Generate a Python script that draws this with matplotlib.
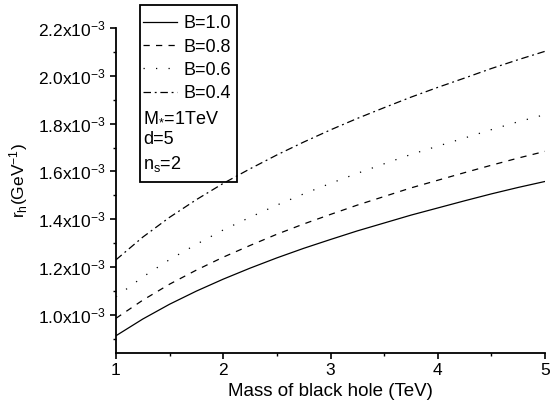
import numpy as np
import matplotlib
matplotlib.use("Agg")
import matplotlib.pyplot as plt
from matplotlib.patches import Rectangle
from matplotlib.ticker import MultipleLocator, FixedLocator, FuncFormatter

plt.rcParams["font.family"] = ["Liberation Sans", "DejaVu Sans"]
plt.rcParams["mathtext.fontset"] = "custom"
plt.rcParams["mathtext.rm"] = "Liberation Sans"
plt.rcParams["mathtext.it"] = "Liberation Sans"

# black hole mass (TeV) and horizon radius r_h (units of 1e-3 GeV^-1)
mass = [1.0, 1.25, 1.5, 1.75, 2.0, 2.25, 2.5, 2.75, 3.0,
        3.25, 3.5, 3.75, 4.0, 4.25, 4.5, 4.75, 5.0]
rh_b10 = [0.912, 0.982, 1.044, 1.099, 1.149, 1.195, 1.238, 1.278, 1.315,
          1.351, 1.384, 1.417, 1.447, 1.477, 1.506, 1.533, 1.558]
rh_b08 = [0.985, 1.061, 1.128, 1.187, 1.241, 1.290, 1.337, 1.380, 1.420,
          1.459, 1.495, 1.531, 1.563, 1.595, 1.626, 1.656, 1.684]
rh_b06 = [1.075, 1.158, 1.231, 1.295, 1.355, 1.408, 1.459, 1.506, 1.550,
          1.592, 1.632, 1.671, 1.706, 1.740, 1.775, 1.808, 1.838]
rh_b04 = [1.230, 1.325, 1.408, 1.482, 1.550, 1.611, 1.669, 1.723, 1.774,
          1.822, 1.867, 1.911, 1.952, 1.991, 2.031, 2.068, 2.103]

series = [
    ("B=1.0", rh_b10, "-"),
    ("B=0.8", rh_b08, (0, (5, 5))),
    ("B=0.6", rh_b06, (0, (1, 9))),
    ("B=0.4", rh_b04, (0, (6, 3, 1.5, 3))),
]
params = [r"M$_{*}$=1TeV", "d=5", r"n$_{s}$=2"]

fig = plt.figure(figsize=(5.55, 4.08), dpi=100)
ax = fig.add_axes([0.209, 0.135, 0.773, 0.796])

for label, vals, ls in series:
    ax.plot(mass, vals, color="black", lw=0.9, ls=ls, label=label)

ax.set_xlim(1, 5)
ax.set_ylim(0.84, 2.2)
ax.xaxis.set_major_locator(MultipleLocator(1))
ax.xaxis.set_minor_locator(MultipleLocator(0.5))
ax.yaxis.set_major_locator(FixedLocator(np.arange(1.0, 2.21, 0.2)))
ax.yaxis.set_minor_locator(FixedLocator(np.arange(0.9, 2.21, 0.1)))
ax.yaxis.set_major_formatter(FuncFormatter(lambda v, p: f"{v:.1f}x10$^{{-3}}$"))
ax.xaxis.set_major_formatter(FuncFormatter(lambda v, p: f"{v:.0f}"))

for s in ("top", "right"):
    ax.spines[s].set_visible(False)
for s in ("left", "bottom"):
    ax.spines[s].set_linewidth(1.3)
ax.tick_params(which="major", direction="out", length=4, width=1.2, labelsize=12.5)
ax.tick_params(which="minor", direction="out", length=2.5, width=1.0)

ax.set_xlabel("Mass of black hole (TeV)", fontsize=13.5, labelpad=3)
ax.set_ylabel(r"r$_{h}$(GeV$^{-1}$)", fontsize=12.5)
ax.yaxis.set_label_coords(-0.20, 0.53)

# legend: four curves plus three parameter lines without handles
handles, labels = ax.get_legend_handles_labels()
for p in params:
    h, = ax.plot([], [], color="none")
    handles.append(h)
    labels.append(p)
leg = ax.legend(handles, labels, loc="upper left", bbox_to_anchor=(0.063, 1.039),
                fontsize=13, frameon=False,
                handlelength=1.9, handletextpad=0.33, labelspacing=0.34,
                borderpad=0, borderaxespad=0)
leg.set_clip_on(False)
rows = leg._legend_handle_box.get_children()[0].get_children()
for row in rows[len(series):]:
    row.get_children()[0].width = 0
    row.sep = 0

# box drawn around the legend, taller than the legend's own padding allows
ax.add_patch(Rectangle((0.056, 0.526), 0.226, 0.545, transform=ax.transAxes,
                       fill=False, edgecolor="black", lw=1.3, clip_on=False))

fig.savefig("out.png", dpi=100)
